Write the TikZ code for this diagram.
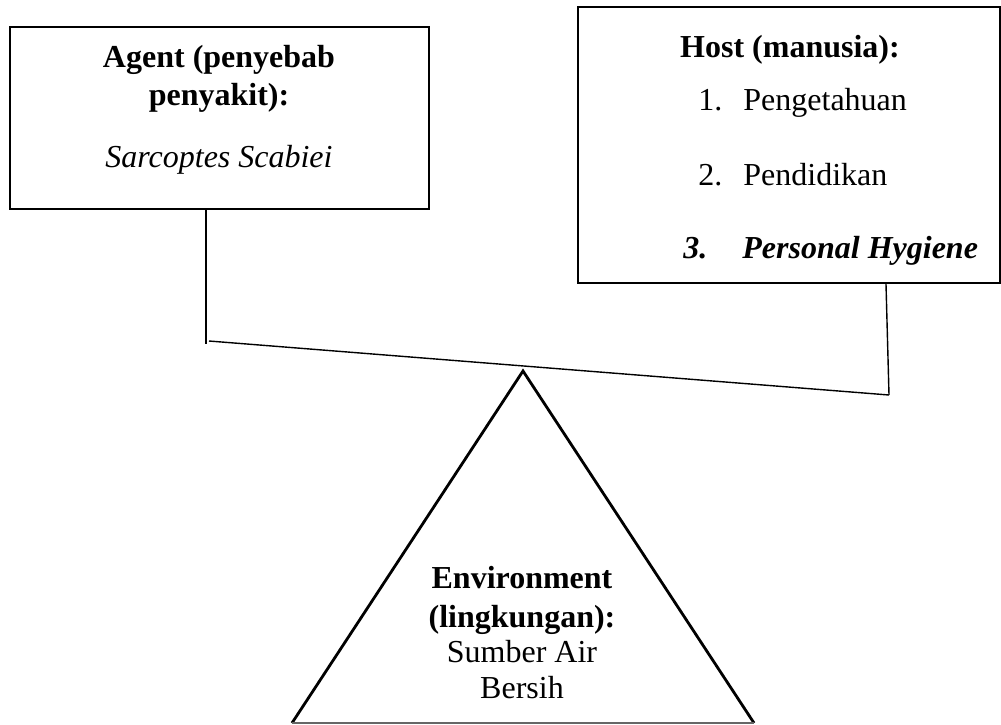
\documentclass[tikz,border=0pt]{standalone}
\usepackage{fontspec}
\setmainfont{Liberation Serif}
\begin{document}
\begin{tikzpicture}[x=0.5pt,y=-0.5pt,
  box/.style={draw, line width=1.2pt, rectangle, inner sep=0pt},
  txt/.style={inner sep=0pt, anchor=base, font=\fontsize{16}{19}\selectfont},
  txtl/.style={inner sep=0pt, anchor=base west, font=\fontsize{16}{19}\selectfont},
  conn/.style={line width=0.7pt},
  tri/.style={line width=1.4pt, line join=miter}]
\useasboundingbox (0,0) rectangle (1001,724);
% boxes
\node[box, minimum width=209.5pt, minimum height=91pt] (agent) at (219.5,118) {};
\node[box, minimum width=211pt, minimum height=138pt] (host) at (789,145) {};
% agent text
\node[txt] (a1t) at (219,67) {\bfseries Agent (penyebab};
\node[txt] (a2t) at (219,105) {\bfseries penyakit):};
\node[txt] (a3t) at (219,167) {\itshape Sarcoptes Scabiei};
% host text
\node[txt] (h0) at (790,57) {\bfseries Host (manusia):};
\node[txtl] (h1n) at (698,110) {1.};
\node[txtl] (h1) at (743,110) {Pengetahuan};
\node[txtl] (h2n) at (698,185) {2.};
\node[txtl] (h2) at (743,185) {Pendidikan};
\node[txtl] (h3n) at (683,258) {\bfseries\itshape 3.};
\node[txtl] (h3) at (742,258) {\bfseries\itshape Personal Hygiene};
% triangle
\coordinate (apex) at (523,371);
\coordinate (bl) at (292,723);
\coordinate (br) at (754,723);
\draw[tri] (bl) -- (apex) -- (br);
\draw[line width=1.2pt, black!60] (bl) -- (br);
% environment text
\node[txt] (e1) at (522,588) {\bfseries Environment};
\node[txt] (e2) at (522,627) {\bfseries (lingkungan):};
\node[txt] (e3) at (522,662) {Sumber Air};
\node[txt] (e4) at (522,698) {Bersih};
% connectors
\coordinate (ac) at (206,344);
\coordinate (l1) at (209,341);
\coordinate (l2) at (889,395);
\coordinate (hc) at (886,283);
\draw[conn] (ac |- agent.south) -- (ac);
\draw[conn] (l1) -- (l2);
\draw[conn] (hc |- host.south) -- (l2);
\end{tikzpicture}
\end{document}
